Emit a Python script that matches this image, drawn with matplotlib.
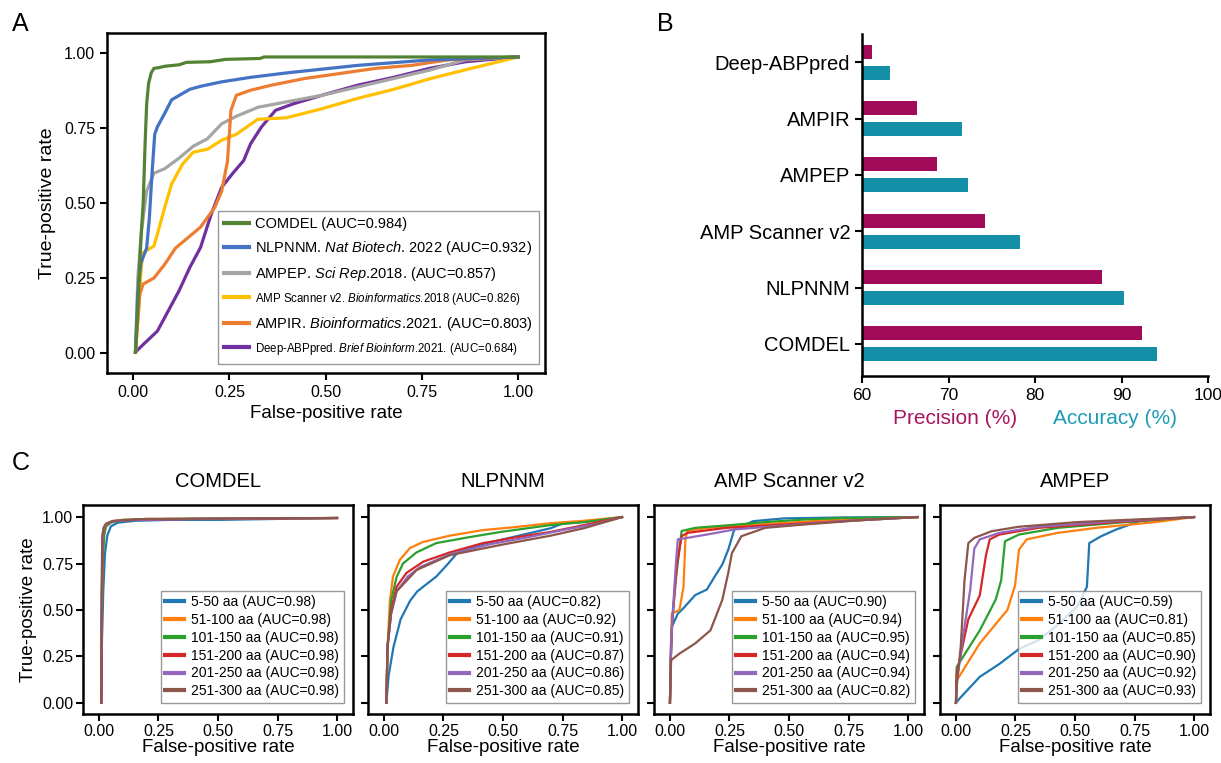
import matplotlib
matplotlib.use('Agg')
import matplotlib.pyplot as plt
from matplotlib.lines import Line2D

plt.rcParams['font.family'] = ['Liberation Sans', 'DejaVu Sans']
plt.rcParams['mathtext.fontset'] = 'custom'
plt.rcParams['mathtext.rm'] = 'Liberation Sans'
plt.rcParams['mathtext.it'] = 'Liberation Sans:italic'

# ---------------- Panel A data ----------------
a_labels = [
    "COMDEL (AUC=0.984)",
    r"NLPNNM. $\mathit{Nat\ Biotech}$. 2022 (AUC=0.932)",
    r"AMPEP. $\mathit{Sci\ Rep}$.2018. (AUC=0.857)",
    r"AMP Scanner v2. $\mathit{Bioinformatics}$.2018 (AUC=0.826)",
    r"AMPIR. $\mathit{Bioinformatics}$.2021. (AUC=0.803)",
    r"Deep-ABPpred. $\mathit{Brief\ Bioinform}$.2021. (AUC=0.684)",
]
a_label_sizes = [10.5, 10.5, 10.5, 8.3, 10.5, 8.3]
a_colors = ['#548235', '#4472C4', '#A5A5A5', '#FFC000', '#ED7D31', '#7030A0']

comdel_fpr = [0.006, 0.012, 0.017, 0.021, 0.026, 0.031, 0.035, 0.040, 0.047, 0.054, 0.065, 0.082, 0.12, 0.138, 0.20, 0.24, 0.33, 0.34, 0.60, 1.0]
comdel_tpr = [0.003, 0.15, 0.30, 0.40, 0.50, 0.70, 0.83, 0.90, 0.935, 0.95, 0.952, 0.957, 0.962, 0.970, 0.972, 0.980, 0.983, 0.988, 0.988, 0.988]
nlpnnm_fpr = [0.006, 0.012, 0.020, 0.035, 0.042, 0.049, 0.056, 0.063, 0.082, 0.10, 0.12, 0.147, 0.175, 0.23, 0.305, 0.40, 0.584, 0.77, 1.0]
nlpnnm_tpr = [0.003, 0.20, 0.30, 0.35, 0.45, 0.60, 0.73, 0.755, 0.80, 0.845, 0.86, 0.88, 0.89, 0.905, 0.92, 0.935, 0.96, 0.978, 0.988]
ampep_fpr = [0.006, 0.012, 0.021, 0.035, 0.054, 0.082, 0.119, 0.156, 0.193, 0.23, 0.268, 0.324, 0.398, 0.49, 0.584, 0.677, 0.77, 0.863, 1.0]
ampep_tpr = [0.003, 0.25, 0.40, 0.54, 0.60, 0.615, 0.65, 0.69, 0.715, 0.765, 0.79, 0.82, 0.838, 0.86, 0.888, 0.916, 0.944, 0.978, 0.988]
ampscan_fpr = [0.006, 0.017, 0.021, 0.026, 0.054, 0.063, 0.082, 0.10, 0.128, 0.156, 0.193, 0.23, 0.268, 0.324, 0.398, 0.49, 0.584, 0.677, 0.77, 0.863, 1.0]
ampscan_tpr = [0.003, 0.195, 0.285, 0.335, 0.357, 0.397, 0.486, 0.564, 0.63, 0.67, 0.68, 0.71, 0.73, 0.78, 0.785, 0.815, 0.85, 0.88, 0.915, 0.945, 0.988]
ampir_fpr = [0.006, 0.017, 0.026, 0.054, 0.082, 0.11, 0.138, 0.175, 0.212, 0.23, 0.245, 0.254, 0.268, 0.305, 0.36, 0.445, 0.538, 0.63, 0.724, 0.817, 1.0]
ampir_tpr = [0.003, 0.195, 0.23, 0.25, 0.296, 0.35, 0.38, 0.42, 0.486, 0.54, 0.64, 0.81, 0.86, 0.877, 0.894, 0.916, 0.933, 0.95, 0.96, 0.978, 0.988]
deep_fpr = [0.006, 0.026, 0.063, 0.091, 0.119, 0.147, 0.175, 0.203, 0.23, 0.259, 0.287, 0.305, 0.333, 0.37, 0.417, 0.49, 0.584, 0.677, 0.77, 0.863, 1.0]
deep_tpr = [0.003, 0.028, 0.073, 0.14, 0.207, 0.285, 0.352, 0.464, 0.553, 0.60, 0.642, 0.698, 0.754, 0.81, 0.832, 0.86, 0.894, 0.92, 0.95, 0.972, 0.988]

# ---------------- Panel B data ----------------
b_models = ["COMDEL", "NLPNNM", "AMP Scanner v2", "AMPEP", "AMPIR", "Deep-ABPpred"]
b_precision = [92.4, 87.7, 74.2, 68.7, 66.4, 61.1]
b_accuracy = [94.1, 90.3, 78.3, 72.2, 71.6, 63.2]
b_xticks = [60, 70, 80, 90, 100]

# ---------------- Panel C data ----------------
c_titles = ["COMDEL", "NLPNNM", "AMP Scanner v2", "AMPEP"]
c_groups = ["5-50 aa", "51-100 aa", "101-150 aa", "151-200 aa", "201-250 aa", "251-300 aa"]
c_auc = [
    [0.98, 0.98, 0.98, 0.98, 0.98, 0.98],
    [0.82, 0.92, 0.91, 0.87, 0.86, 0.85],
    [0.90, 0.94, 0.95, 0.94, 0.94, 0.82],
    [0.59, 0.81, 0.85, 0.90, 0.92, 0.93],
]
c_colors = ['#1f77b4', '#ff7f0e', '#2ca02c', '#d62728', '#9467bd', '#8c564b']

comdel_len_fpr = [
    [0.01, 0.012, 0.018, 0.025, 0.035, 0.05, 0.08, 0.15, 0.3, 0.5, 1.0],
    [0.01, 0.012, 0.015, 0.02, 0.03, 0.05, 0.1, 0.2, 0.5, 1.0],
    [0.01, 0.012, 0.016, 0.022, 0.03, 0.05, 0.1, 0.3, 1.0],
    [0.01, 0.012, 0.015, 0.02, 0.03, 0.06, 0.15, 0.4, 1.0],
    [0.01, 0.012, 0.015, 0.02, 0.03, 0.06, 0.15, 0.4, 1.0],
    [0.01, 0.011, 0.014, 0.02, 0.03, 0.06, 0.2, 1.0],
]
comdel_len_tpr = [
    [0.0, 0.3, 0.6, 0.8, 0.9, 0.95, 0.97, 0.98, 0.985, 0.985, 0.995],
    [0.0, 0.5, 0.85, 0.93, 0.96, 0.975, 0.985, 0.99, 0.99, 0.995],
    [0.0, 0.4, 0.75, 0.9, 0.95, 0.97, 0.985, 0.99, 0.995],
    [0.0, 0.5, 0.85, 0.93, 0.96, 0.978, 0.985, 0.99, 0.995],
    [0.0, 0.55, 0.87, 0.935, 0.962, 0.978, 0.985, 0.99, 0.995],
    [0.0, 0.6, 0.9, 0.945, 0.965, 0.98, 0.99, 0.995],
]
nlpnnm_len_fpr = [
    [0.01, 0.02, 0.04, 0.07, 0.11, 0.14, 0.18, 0.22, 0.27, 0.31, 0.4, 0.5, 0.6, 0.7, 0.75, 0.85, 1.0],
    [0.01, 0.015, 0.025, 0.038, 0.067, 0.109, 0.164, 0.277, 0.416, 0.55, 0.70, 0.84, 1.0],
    [0.01, 0.015, 0.03, 0.053, 0.08, 0.137, 0.22, 0.35, 0.49, 0.70, 0.84, 1.0],
    [0.01, 0.015, 0.03, 0.053, 0.095, 0.165, 0.277, 0.416, 0.55, 0.70, 0.84, 1.0],
    [0.01, 0.015, 0.03, 0.053, 0.1, 0.15, 0.277, 0.45, 0.6, 0.75, 0.9, 1.0],
    [0.01, 0.015, 0.03, 0.053, 0.137, 0.277, 0.49, 0.70, 0.84, 1.0],
]
nlpnnm_len_tpr = [
    [0.0, 0.15, 0.3, 0.45, 0.55, 0.6, 0.64, 0.68, 0.75, 0.81, 0.85, 0.88, 0.91, 0.94, 0.965, 0.975, 1.0],
    [0.0, 0.3, 0.55, 0.68, 0.77, 0.833, 0.866, 0.90, 0.93, 0.946, 0.967, 0.98, 1.0],
    [0.0, 0.3, 0.55, 0.677, 0.75, 0.81, 0.86, 0.89, 0.92, 0.957, 0.973, 1.0],
    [0.0, 0.3, 0.5, 0.625, 0.70, 0.76, 0.81, 0.86, 0.89, 0.92, 0.957, 1.0],
    [0.0, 0.3, 0.48, 0.6, 0.68, 0.73, 0.8, 0.855, 0.89, 0.93, 0.965, 1.0],
    [0.0, 0.3, 0.48, 0.6, 0.715, 0.795, 0.85, 0.90, 0.94, 1.0],
]
ampscan_len_fpr = [
    [0.0, 0.004, 0.008, 0.033, 0.057, 0.106, 0.155, 0.188, 0.22, 0.245, 0.27, 0.35, 0.48, 0.726, 1.04],
    [0.0, 0.004, 0.008, 0.04, 0.057, 0.065, 0.073, 0.15, 0.3, 0.5, 0.75, 1.04],
    [0.0, 0.004, 0.008, 0.024, 0.049, 0.106, 0.237, 0.40, 0.563, 0.726, 1.04],
    [0.0, 0.004, 0.01, 0.03, 0.049, 0.073, 0.237, 0.48, 0.726, 1.04],
    [0.0, 0.004, 0.01, 0.025, 0.033, 0.073, 0.155, 0.27, 0.40, 0.726, 1.04],
    [0.0, 0.003, 0.005, 0.04, 0.106, 0.17, 0.22, 0.245, 0.26, 0.30, 0.40, 0.563, 0.81, 1.04],
]
ampscan_len_tpr = [
    [0.0, 0.3, 0.41, 0.48, 0.51, 0.58, 0.61, 0.68, 0.745, 0.825, 0.933, 0.978, 0.993, 0.998, 1.0],
    [0.0, 0.3, 0.48, 0.5, 0.625, 0.88, 0.925, 0.94, 0.955, 0.97, 0.99, 1.0],
    [0.0, 0.25, 0.41, 0.66, 0.925, 0.942, 0.955, 0.973, 0.987, 0.995, 1.0],
    [0.0, 0.25, 0.45, 0.75, 0.897, 0.915, 0.942, 0.96, 0.978, 1.0],
    [0.0, 0.25, 0.45, 0.75, 0.88, 0.888, 0.906, 0.933, 0.947, 0.978, 1.0],
    [0.0, 0.15, 0.23, 0.265, 0.32, 0.39, 0.555, 0.70, 0.805, 0.897, 0.942, 0.96, 0.984, 1.0],
]
ampep_len_fpr = [
    [0.0, 0.02, 0.10, 0.183, 0.265, 0.346, 0.428, 0.51, 0.55, 0.56, 0.61, 0.673, 0.77, 0.9, 1.0],
    [0.0, 0.003, 0.10, 0.216, 0.248, 0.265, 0.297, 0.428, 0.59, 0.837, 1.0],
    [0.0, 0.003, 0.10, 0.167, 0.19, 0.206, 0.265, 0.428, 0.673, 1.0],
    [0.0, 0.003, 0.052, 0.10, 0.126, 0.142, 0.183, 0.346, 0.673, 1.0],
    [0.0, 0.005, 0.028, 0.06, 0.077, 0.10, 0.183, 0.346, 0.673, 1.0],
    [0.0, 0.005, 0.02, 0.036, 0.052, 0.077, 0.15, 0.265, 0.51, 0.755, 1.0],
]
ampep_len_tpr = [
    [0.0, 0.03, 0.14, 0.21, 0.29, 0.337, 0.42, 0.52, 0.625, 0.86, 0.897, 0.933, 0.978, 0.99, 1.0],
    [0.0, 0.12, 0.32, 0.50, 0.63, 0.825, 0.88, 0.915, 0.942, 0.973, 1.0],
    [0.0, 0.193, 0.39, 0.556, 0.66, 0.87, 0.906, 0.942, 0.969, 1.0],
    [0.0, 0.157, 0.45, 0.578, 0.794, 0.88, 0.906, 0.942, 0.973, 1.0],
    [0.0, 0.12, 0.343, 0.61, 0.83, 0.88, 0.915, 0.948, 0.978, 1.0],
    [0.0, 0.12, 0.30, 0.66, 0.86, 0.888, 0.924, 0.948, 0.973, 0.987, 1.0],
]
roc_ticks = [0.0, 0.25, 0.5, 0.75, 1.0]
roc_ticklabels = ["0.00", "0.25", "0.50", "0.75", "1.00"]

W, H = 1221, 763
fig = plt.figure(figsize=(W / 100, H / 100), dpi=100)


def px_axes(left, top, right, bottom):
    return fig.add_axes([left / W, 1 - bottom / H, (right - left) / W, (bottom - top) / H])


# ---------------- Panel A ----------------
axA = px_axes(107, 33, 545, 373)
a_fprs = [comdel_fpr, nlpnnm_fpr, ampep_fpr, ampscan_fpr, ampir_fpr, deep_fpr]
a_tprs = [comdel_tpr, nlpnnm_tpr, ampep_tpr, ampscan_tpr, ampir_tpr, deep_tpr]
order = [5, 3, 2, 4, 1, 0]
for i in order:
    axA.plot(a_fprs[i], a_tprs[i], color=a_colors[i], lw=2.3, solid_joinstyle='round')
handles = [Line2D([0], [0], color=c, lw=3) for c in a_colors]
leg = axA.legend(handles, a_labels, loc='lower right', bbox_to_anchor=(0.987, 0.027),
                 borderaxespad=0, frameon=True, fancybox=False, edgecolor='#808080',
                 handlelength=1.7, handletextpad=0.4, labelspacing=0.55, borderpad=0.45,
                 fontsize=10.5)
leg.get_frame().set_linewidth(1.0)
for t, s in zip(leg.get_texts(), a_label_sizes):
    t.set_fontsize(s)
axA.set_xlim(-0.068, 1.07)
axA.set_ylim(-0.067, 1.068)
axA.set_xticks(roc_ticks)
axA.set_xticklabels(roc_ticklabels)
axA.set_yticks(roc_ticks)
axA.set_yticklabels(roc_ticklabels)
axA.tick_params(labelsize=11.5, length=5, width=1.5, color='black')
for sp in axA.spines.values():
    sp.set_linewidth(1.8)
axA.set_xlabel("False-positive rate", fontsize=13.5, labelpad=4)
axA.set_ylabel("True-positive rate", fontsize=14, labelpad=6)

# ---------------- Panel B ----------------
axB = px_axes(862, 34, 1208, 376)
ypos = list(range(len(b_models)))
bh = 0.25
off = 0.186
axB.barh([y + off for y in ypos], b_precision, height=bh, color='#A20A5A', edgecolor='none')
axB.barh([y - off for y in ypos], b_accuracy, height=bh, color='#1390A8', edgecolor='none')
axB.set_xlim(60, 100)
axB.set_ylim(-0.57, 5.5)
axB.set_yticks(ypos)
axB.set_yticklabels(b_models, fontsize=14.5)
axB.set_xticks(b_xticks)
axB.set_xticklabels([str(v) for v in b_xticks], fontsize=12.5)
axB.spines['top'].set_visible(False)
axB.spines['right'].set_visible(False)
axB.spines['left'].set_linewidth(1.8)
axB.spines['bottom'].set_linewidth(1.8)
axB.tick_params(length=5, width=1.5)
fig.text(955 / W, 1 - 418 / H, "Precision (%)", color='#A8165F', fontsize=15, ha='center', va='center')
fig.text(1115 / W, 1 - 418 / H, "Accuracy (%)", color='#1E9BB4', fontsize=15, ha='center', va='center')

# ---------------- Panel C ----------------
c_fprs = [comdel_len_fpr, nlpnnm_len_fpr, ampscan_len_fpr, ampep_len_fpr]
c_tprs = [comdel_len_tpr, nlpnnm_len_tpr, ampscan_len_tpr, ampep_len_tpr]
c_lefts = [83, 368, 654, 940]
for k in range(4):
    ax = px_axes(c_lefts[k], 505, c_lefts[k] + 270, 714)
    for j in range(6):
        ax.plot(c_fprs[k][j], c_tprs[k][j], color=c_colors[j], lw=1.6,
                label=f"{c_groups[j]} (AUC={c_auc[k][j]:.2f})")
    lg = ax.legend(loc='lower right', bbox_to_anchor=(0.965, 0.055), borderaxespad=0,
                   frameon=True, fancybox=False, edgecolor='#808080', fontsize=10,
                   handlelength=1.4, handletextpad=0.5, labelspacing=0.28, borderpad=0.3)
    lg.get_frame().set_linewidth(1.0)
    for line in lg.get_lines():
        line.set_linewidth(3)
    ax.set_xlim(-0.067, 1.067)
    ax.set_ylim(-0.06, 1.065)
    ax.set_xticks(roc_ticks)
    ax.set_xticklabels(roc_ticklabels)
    ax.set_yticks(roc_ticks)
    if k == 0:
        ax.set_yticklabels(roc_ticklabels)
        ax.set_ylabel("True-positive rate", fontsize=13.5, labelpad=4)
    else:
        ax.set_yticklabels([])
    ax.tick_params(labelsize=11.5, length=5, width=1.5, pad=2)
    for sp in ax.spines.values():
        sp.set_linewidth(1.8)
    ax.set_xlabel("False-positive rate", fontsize=13.5, labelpad=0)
    ax.set_title(c_titles[k], fontsize=14.5, pad=13)

# panel letters
fig.text(20 / W, 1 - 24 / H, "A", fontsize=18, ha='center', va='center')
fig.text(665 / W, 1 - 24 / H, "B", fontsize=18, ha='center', va='center')
fig.text(21 / W, 1 - 463 / H, "C", fontsize=18, ha='center', va='center')

fig.savefig("out.png", dpi=100)
